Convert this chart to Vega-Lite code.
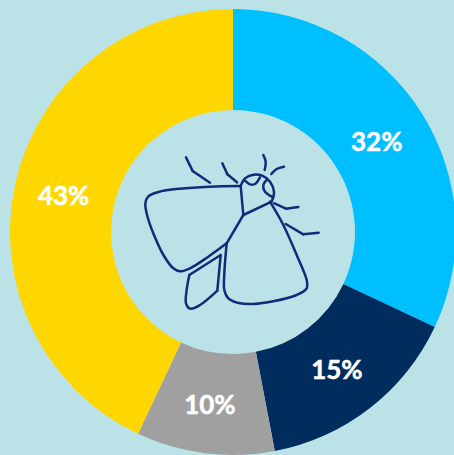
{
"$schema":"https://vega.github.io/schema/vega-lite/v6.json",
"width":466,"height":464,"padding":0,"autosize":{"type":"none"},
"background":"#BBE2E6",
"view":{"stroke":null},
"datasets":{
"shares":[
{"label":"32%","value":32,"k":1,"c":"a"},
{"label":"15%","value":15,"k":2,"c":"b"},
{"label":"10%","value":10,"k":3,"c":"c"},
{"label":"43%","value":43,"k":4,"c":"d"}],
"moth":[
{"p":"a1","i":1,"x":168,"y":52},{"p":"a1","i":2,"x":188,"y":93},{"p":"a1b","i":1,"x":188,"y":93},{"p":"a1b","i":2,"x":240,"y":128},
{"p":"a2","i":1,"x":277,"y":70},{"p":"a2","i":2,"x":292,"y":103},{"p":"a2b","i":1,"x":292,"y":103},{"p":"a2b","i":2,"x":321,"y":127},
{"p":"l1","i":1,"x":400,"y":45},{"p":"l1","i":2,"x":407,"y":65},{"p":"l1","i":3,"x":404,"y":90},
{"p":"l2","i":1,"x":424,"y":102},{"p":"l2","i":2,"x":440,"y":87},{"p":"l2","i":3,"x":462,"y":80},
{"p":"l3","i":1,"x":433,"y":190},{"p":"l3","i":2,"x":468,"y":206},{"p":"l3b","i":1,"x":468,"y":206},{"p":"l3b","i":2,"x":505,"y":201},
{"p":"l4","i":1,"x":467,"y":252},{"p":"l4","i":2,"x":520,"y":283},{"p":"l4b","i":1,"x":520,"y":283},{"p":"l4b","i":2,"x":566,"y":278},
{"p":"w1","i":1,"x":332,"y":138},{"p":"w1","i":2,"x":240,"y":140},{"p":"w1","i":3,"x":150,"y":146},{"p":"w1","i":4,"x":85,"y":156},{"p":"w1","i":5,"x":55,"y":169},{"p":"w1","i":6,"x":46,"y":190},{"p":"w1","i":7,"x":52,"y":228},{"p":"w1","i":8,"x":72,"y":285},{"p":"w1","i":9,"x":102,"y":348},{"p":"w1","i":10,"x":130,"y":385},{"p":"w1","i":11,"x":150,"y":394},{"p":"w1","i":12,"x":180,"y":385},{"p":"w1","i":13,"x":235,"y":350},{"p":"w1","i":14,"x":290,"y":310},
{"p":"b1","i":1,"x":290,"y":310},{"p":"b1","i":2,"x":340,"y":225},
{"p":"b2","i":1,"x":332,"y":138},{"p":"b2","i":2,"x":340,"y":225},
{"p":"b3","i":1,"x":340,"y":225},{"p":"b3","i":2,"x":425,"y":185},
{"p":"h","i":1,"x":332,"y":138},{"p":"h","i":2,"x":345,"y":115},{"p":"h","i":3,"x":370,"y":104},{"p":"h","i":4,"x":395,"y":106},{"p":"h","i":5,"x":420,"y":125},{"p":"h","i":6,"x":432,"y":155},{"p":"h","i":7,"x":425,"y":185},
{"p":"e1","i":1,"x":345,"y":122},{"p":"e1","i":2,"x":360,"y":133},{"p":"e1","i":3,"x":375,"y":132},{"p":"e1","i":4,"x":390,"y":112},
{"p":"e2","i":1,"x":412,"y":118},{"p":"e2","i":2,"x":400,"y":135},{"p":"e2","i":3,"x":405,"y":155},{"p":"e2","i":4,"x":430,"y":172},
{"p":"w2","i":1,"x":290,"y":310},{"p":"w2","i":2,"x":283,"y":400},{"p":"w2","i":3,"x":283,"y":450},{"p":"w2","i":4,"x":295,"y":475},{"p":"w2","i":5,"x":330,"y":490},{"p":"w2","i":6,"x":370,"y":492},{"p":"w2","i":7,"x":430,"y":484},{"p":"w2","i":8,"x":500,"y":465},{"p":"w2","i":9,"x":530,"y":445},{"p":"w2","i":10,"x":530,"y":420},{"p":"w2","i":11,"x":500,"y":345},{"p":"w2","i":12,"x":460,"y":255},{"p":"w2","i":13,"x":420,"y":185},
{"p":"s1","i":1,"x":272,"y":345},{"p":"s1","i":2,"x":178,"y":405},
{"p":"s2","i":1,"x":178,"y":405},{"p":"s2","i":2,"x":170,"y":450},{"p":"s2","i":3,"x":168,"y":490},{"p":"s2","i":4,"x":180,"y":506},{"p":"s2","i":5,"x":210,"y":495},{"p":"s2","i":6,"x":262,"y":452},
{"p":"s3","i":1,"x":262,"y":452},{"p":"s3","i":2,"x":272,"y":345}
]},
"layer":[
{"data":{"name":"shares"},
 "mark":{"type":"arc","radius":223,"radius2":122},
 "encoding":{
  "theta":{"field":"value","type":"quantitative","stack":true,"scale":{"domain":[0,100]}},
  "order":{"field":"k","type":"ordinal"},
  "color":{"field":"c","type":"nominal","legend":null,"scale":{"domain":["a","b","c","d"],"range":["#00BFFF","#002D5E","#A0A0A0","#FFD700"]}}}},
{"data":{"name":"shares"},
 "mark":{"type":"text","radius":172,"dx":-1.5,"dy":3,"font":"Lato","fontWeight":"bold","fontSize":26,"color":"#FFFFFF","stroke":"#FFFFFF","strokeWidth":0.5},
 "encoding":{
  "theta":{"field":"value","type":"quantitative","stack":true,"scale":{"domain":[0,100]}},
  "order":{"field":"k","type":"ordinal"},
  "text":{"field":"label"}}},
{"data":{"name":"moth"},
 "mark":{"type":"line","interpolate":"catmull-rom","color":"#14297A","strokeWidth":2.5,"strokeCap":"round","strokeJoin":"round"},
 "encoding":{
  "x":{"field":"x","type":"quantitative","axis":null,"scale":{"domain":[-390,1008],"nice":false,"zero":false}},
  "y":{"field":"y","type":"quantitative","axis":null,"scale":{"domain":[972,-420],"nice":false,"zero":false}},
  "detail":{"field":"p"},
  "order":{"field":"i","type":"quantitative"}}}
]}
